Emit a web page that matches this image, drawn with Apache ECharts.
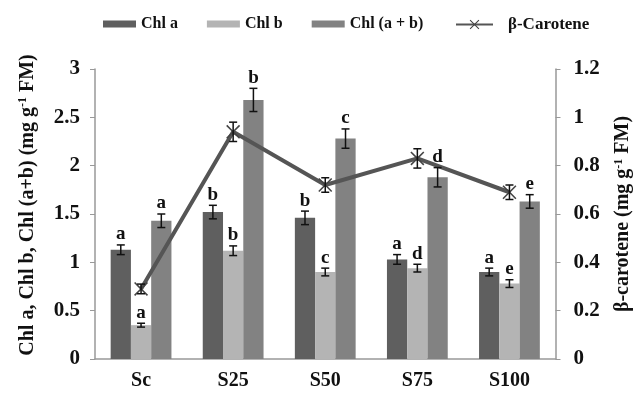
<!DOCTYPE html>
<html><head><meta charset="utf-8">
<script src="https://cdn.jsdelivr.net/npm/echarts@6/dist/echarts.min.js"></script>
<style>html,body{margin:0;padding:0;background:#fff}#c{width:641px;height:393px}</style>
</head><body><div id="c"></div>
<script>
const categories = ['Sc', 'S25', 'S50', 'S75', 'S100'];
const chlA = [1.13, 1.52, 1.46, 1.03, 0.90];
const chlAErr = [0.05, 0.07, 0.07, 0.05, 0.04];
const chlALetters = ['a', 'b', 'b', 'a', 'a'];
const chlB = [0.35, 1.12, 0.90, 0.94, 0.78];
const chlBErr = [0.02, 0.05, 0.04, 0.04, 0.04];
const chlBLetters = ['a', 'b', 'c', 'd', 'e'];
const chlTotal = [1.43, 2.68, 2.28, 1.88, 1.63];
const chlTotalErr = [0.07, 0.12, 0.10, 0.10, 0.07];
const chlTotalLetters = ['a', 'b', 'c', 'd', 'e'];
const carotene = [0.29, 0.94, 0.72, 0.83, 0.69];
const caroteneErr = [0.02, 0.04, 0.03, 0.04, 0.03];
const leftTicks = [0, 0.5, 1, 1.5, 2, 2.5, 3];
const rightTicks = [0, 0.2, 0.4, 0.6, 0.8, 1, 1.2];

const FONT = '"Liberation Serif", "Times New Roman", serif';
const GAP = 0.34;
const colors = ['#5f5f5f', '#b4b4b4', '#828282'];

function errSeries(idx, vals, errs, letters, yAxisIndex, nBars) {
  return {
    type: 'custom', yAxisIndex: yAxisIndex, z: 10, silent: true,
    data: vals.map((v, i) => [i, v, errs[i]]),
    encode: { x: 0, y: 1 },
    renderItem: function (params, api) {
      const i = api.value(0), v = api.value(1), e = api.value(2);
      const band = api.size([1, 0])[0];
      let cx = api.coord([i, v])[0];
      if (nBars) {
        const bw = band * (1 - GAP) / nBars;
        cx += (idx - (nBars - 1) / 2) * bw;
      }
      const top = api.coord([i, v + e])[1];
      const bot = api.coord([i, v - e])[1];
      const cap = 4;
      const st = { stroke: '#111', lineWidth: 1.5 };
      const children = [
        { type: 'line', shape: { x1: cx, y1: top, x2: cx, y2: bot }, style: st },
        { type: 'line', shape: { x1: cx - cap, y1: top, x2: cx + cap, y2: top }, style: st },
        { type: 'line', shape: { x1: cx - cap, y1: bot, x2: cx + cap, y2: bot }, style: st }
      ];
      const letter = letters ? letters[params.dataIndex] : '';
      if (letter) {
        children.push({ type: 'text', style: { text: letter, x: cx, y: top - 1, align: 'center', verticalAlign: 'bottom', font: 'bold 19px ' + FONT, fill: '#111' } });
      }
      return { type: 'group', children: children };
    }
  };
}

const nameRich = {
  t: { fontFamily: FONT, fontWeight: 'bold', fontSize: 20, color: '#111' },
  s: { fontFamily: FONT, fontWeight: 'bold', fontSize: 12, color: '#111', verticalAlign: 'top', padding: [0, 0, 9, 0] }
};
const legendText = { fontFamily: FONT, fontWeight: 'bold', fontSize: 16, color: '#111' };

const chart = echarts.init(document.getElementById('c'));
chart.setOption({
  animation: false,
  backgroundColor: '#fff',
  legend: [
    {
      left: 98, top: 11, itemWidth: 33, itemHeight: 7, itemGap: 29,
      textStyle: legendText,
      data: [
        { name: 'Chl a', icon: 'rect' },
        { name: 'Chl b', icon: 'rect' },
        { name: 'Chl (a + b)', icon: 'rect' }
      ]
    },
    {
      left: 450, top: 11, itemWidth: 37, itemHeight: 12,
      textStyle: Object.assign({}, legendText, { fontSize: 17, padding: [0, 0, 0, 10] }),
      data: [{ name: 'β-Carotene' }]
    }
  ],
  grid: { left: 95, right: 84, top: 69, bottom: 34 },
  xAxis: {
    type: 'category', data: categories,
    axisLine: { lineStyle: { color: '#999', width: 1.5 } },
    axisTick: { length: 5, lineStyle: { color: '#999' } },
    axisLabel: { fontFamily: FONT, fontWeight: 'bold', fontSize: 20, color: '#111', margin: 12 }
  },
  yAxis: [
    {
      type: 'value', min: 0, max: 3, interval: 0.5,
      name: '{t|Chl a, Chl b, Chl (a+b) (mg g}{s|-1}{t| FM)}',
      nameLocation: 'middle', nameGap: 57, nameRotate: 90,
      nameTextStyle: { rich: nameRich, padding: [0, 0, 0, 18] },
      splitLine: { show: false },
      axisLine: { show: true, lineStyle: { color: '#999', width: 1.5 } },
      axisTick: { show: true, length: 5, lineStyle: { color: '#999' } },
      axisLabel: { fontFamily: FONT, fontWeight: 'bold', fontSize: 21, color: '#111', margin: 15, formatter: v => String(v) }
    },
    {
      type: 'value', min: 0, max: 1.2, interval: 0.2,
      name: '{t|β-carotene (mg g}{s|-1}{t| FM)}',
      nameLocation: 'middle', nameGap: 57, nameRotate: 90,
      nameTextStyle: { rich: nameRich },
      splitLine: { show: false },
      axisLine: { show: true, lineStyle: { color: '#999', width: 1.5 } },
      axisTick: { show: true, length: 5, lineStyle: { color: '#999' } },
      axisLabel: { fontFamily: FONT, fontWeight: 'bold', fontSize: 21, color: '#111', margin: 18, formatter: v => String(v) }
    }
  ],
  series: [
    { name: 'Chl a', type: 'bar', data: chlA, itemStyle: { color: colors[0] }, barGap: '0%', barCategoryGap: (GAP * 100) + '%' },
    { name: 'Chl b', type: 'bar', data: chlB, itemStyle: { color: colors[1] }, barGap: '0%', barCategoryGap: (GAP * 100) + '%' },
    { name: 'Chl (a + b)', type: 'bar', data: chlTotal, itemStyle: { color: colors[2] }, barGap: '0%', barCategoryGap: (GAP * 100) + '%' },
    errSeries(0, chlA, chlAErr, chlALetters, 0, 3),
    errSeries(1, chlB, chlBErr, chlBLetters, 0, 3),
    errSeries(2, chlTotal, chlTotalErr, chlTotalLetters, 0, 3),
    {
      name: 'β-Carotene', type: 'line', yAxisIndex: 1, data: carotene, z: 8,
      lineStyle: { color: '#555', width: 4 }, itemStyle: { color: '#444' },
      symbol: 'path://M0,0.8 L0.8,0 L5,4.2 L9.2,0 L10,0.8 L5.8,5 L10,9.2 L9.2,10 L5,5.8 L0.8,10 L0,9.2 L4.2,5 Z',
      symbolSize: 14, showSymbol: true
    },
    errSeries(0, carotene, caroteneErr, null, 1, 0)
  ]
});
</script></body></html>
